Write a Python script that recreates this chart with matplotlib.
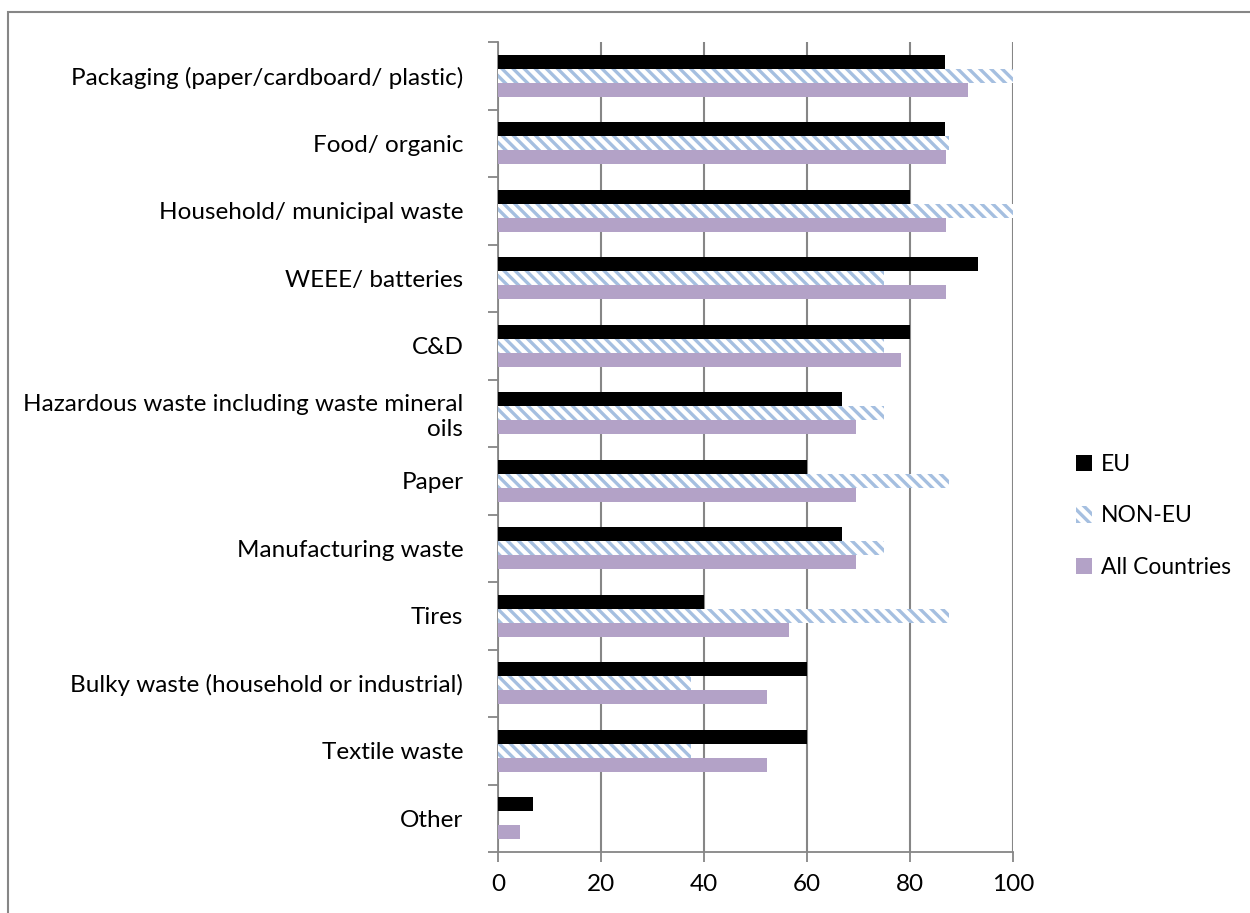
import matplotlib
matplotlib.use("Agg")
import matplotlib.pyplot as plt
import numpy as np
from matplotlib.patches import Rectangle

categories = [
    "Packaging (paper/cardboard/ plastic)",
    "Food/ organic",
    "Household/ municipal waste",
    "WEEE/ batteries",
    "C&D",
    "Hazardous waste including waste mineral\noils",
    "Paper",
    "Manufacturing waste",
    "Tires",
    "Bulky waste (household or industrial)",
    "Textile waste",
    "Other",
]
eu = [86.7, 86.7, 80.0, 93.3, 80.0, 66.7, 60.0, 66.7, 40.0, 60.0, 60.0, 6.7]
non_eu = [100.0, 87.5, 100.0, 75.0, 75.0, 75.0, 87.5, 75.0, 87.5, 37.5, 37.5, 0.0]
all_countries = [91.3, 87.0, 87.0, 87.0, 78.3, 69.6, 69.6, 69.6, 56.5, 52.2, 52.2, 4.3]
series_names = ["EU", "NON-EU", "All Countries"]
x_ticks = [0, 20, 40, 60, 80, 100]

plt.rcParams["font.family"] = ["Lato", "DejaVu Sans"]
plt.rcParams["hatch.linewidth"] = 2.4

grey = "#868686"
blue = "#A5BFE0"
purple = "#B3A2C7"
stripes = chr(92) * 3  # diagonal hatch, top-left to bottom-right

fig = plt.figure(figsize=(12.5, 9.13), dpi=100)
ax = fig.add_axes([498 / 1250, 1 - 852 / 913, (1013 - 498) / 1250, (852 - 42) / 913])

y = np.arange(len(categories))
h = 0.207

ax.barh(y - h, eu, height=h, color="black", label=series_names[0], zorder=3)
ax.barh(y, non_eu, height=h, facecolor="white", edgecolor=blue, hatch=stripes,
        linewidth=0, label=series_names[1], zorder=3)
ax.barh(y + h, all_countries, height=h, color=purple, label=series_names[2], zorder=3)

ax.set_xlim(0, 100)
ax.set_ylim(len(categories) - 0.5, -0.5)
ax.set_xticks(x_ticks)
ax.set_yticks(y)
ax.set_yticklabels(categories, fontsize=17.5, multialignment="right")
ax.set_yticks(np.arange(len(categories) + 1) - 0.5, minor=True)
ax.tick_params(axis="y", which="major", length=0, pad=25)
ax.tick_params(axis="y", which="minor", length=7, width=1.3, color=grey, direction="out")
ax.tick_params(axis="x", length=7, width=1.3, color=grey, labelsize=17.5, pad=9)

ax.grid(axis="x", color=grey, linewidth=1.5, zorder=0)
ax.set_axisbelow(True)
for side in ["top", "right"]:
    ax.spines[side].set_visible(False)
for side in ["left", "bottom"]:
    ax.spines[side].set_color(grey)
    ax.spines[side].set_linewidth(1.3)

ax.legend(loc="center left", bbox_to_anchor=(1076 / 1250, 1 - 516 / 913),
          bbox_transform=fig.transFigure, frameon=False, borderpad=0,
          borderaxespad=0, fontsize=16.5, handlelength=0.7, handleheight=0.7,
          handletextpad=0.4, labelspacing=1.35)

# thin grey frame around the whole chart area
fig.patches.append(Rectangle((8 / 1250, -0.05), 1.1, 1 - 12 / 913 + 0.05,
                             transform=fig.transFigure, fill=False,
                             edgecolor=grey, linewidth=1.5))

fig.savefig("out.png", dpi=100)
